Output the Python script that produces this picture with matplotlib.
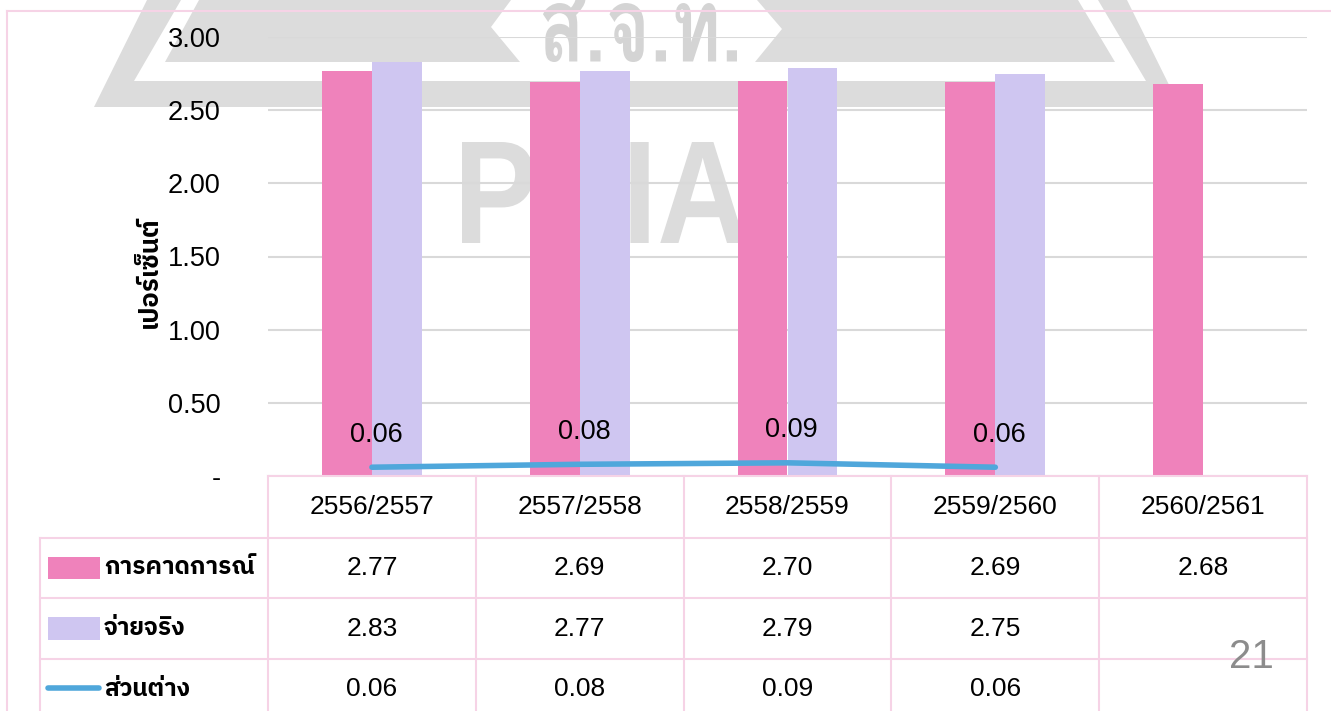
import numpy as np
import matplotlib
matplotlib.use("Agg")
import matplotlib.pyplot as plt
from matplotlib import font_manager as fm
from matplotlib.font_manager import FontProperties
from matplotlib.patches import Polygon, Rectangle, PathPatch
from matplotlib.lines import Line2D
from matplotlib.textpath import TextPath
from matplotlib.transforms import Affine2D

# ---------------- data ----------------
categories = ["2556/2557", "2557/2558", "2558/2559", "2559/2560", "2560/2561"]
forecast = [2.77, 2.69, 2.70, 2.69, 2.68]
actual = [2.83, 2.77, 2.79, 2.75]
difference = [0.06, 0.08, 0.09, 0.06]
series_names = ["การคาดการณ์", "จ่ายจริง", "ส่วนต่าง"]
y_ticks = [0, 0.5, 1.0, 1.5, 2.0, 2.5, 3.0]
y_tick_labels = ["-", "0.50", "1.00", "1.50", "2.00", "2.50", "3.00"]
y_label = "เปอร์เซ็นต์"
page_number = "21"
watermark_th = "ส.จ.ท."
watermark_en = "PPIA"

# ---------------- fonts ----------------
weights = {}
for fe in fm.fontManager.ttflist:
    w = fe.weight if isinstance(fe.weight, int) else 400
    weights.setdefault(fe.name, set()).add(w)


def pick(cands, default, need_bold=False):
    for c in cands:
        if c in weights and (not need_bold or max(weights[c]) >= 600):
            return c
    for c in cands:
        if c in weights:
            return c
    return default


THAI = pick(["Noto Sans Thai", "IBM Plex Sans Thai", "Anuphan", "Kanit", "Loma"],
            "DejaVu Sans", need_bold=True)
THAI_LOOP = pick(["Noto Sans Thai Looped", "Loma", "Sarabun"], THAI, need_bold=True)
FAM = ["Liberation Sans", THAI, "DejaVu Sans"]
plt.rcParams["font.family"] = FAM

PINK = "#EF82BB"
LAV = "#CFC6F1"
BLUE = "#4FA7DB"
BORDER = "#F6D3E6"
GRID = "#D9D9D9"
WM = "#DCDCDC"

W, H = 1331, 711
fig = plt.figure(figsize=(W / 100, H / 100), dpi=100)

# background (watermark) axes in pixel coordinates
bg = fig.add_axes([0, 0, 1, 1], zorder=-5)
bg.set_xlim(0, W)
bg.set_ylim(H, 0)
bg.axis("off")
outer = [(147, 0), (94, 107), (1180, 107), (1127, 0), (1098, 0), (1146, 81),
         (134, 81), (181, 0)]
bg.add_patch(Polygon(outer, closed=True, color=WM, lw=0))
bg.add_patch(Polygon([(199, 0), (165, 62), (520, 62), (491, 27), (511, 0)],
                     closed=True, color=WM, lw=0))
bg.add_patch(Polygon([(757, 0), (782, 29), (755, 62), (1115, 62), (1078, 0)],
                     closed=True, color=WM, lw=0))


def fitted_text(ax, s, box, prop, color):
    tp = TextPath((0, 0), s, size=100, prop=prop)
    ext = tp.get_extents()
    x0, y0, x1, y1 = box  # pixel box, y downward
    sx = (x1 - x0) / ext.width
    sy = (y1 - y0) / ext.height
    tr = (Affine2D().translate(-ext.x0, -ext.y1).scale(sx, -sy)
          .translate(x0, y0))
    ax.add_patch(PathPatch(tr.transform_path(tp), color=color, lw=0))


fitted_text(bg, watermark_th, (543, 0, 737, 62),
            FontProperties(family=THAI_LOOP, weight="bold"), "#D4D4D4")
fitted_text(bg, watermark_en, (462, 142, 745, 243),
            FontProperties(family="Liberation Sans", weight="bold"), WM)

# outer pink frame
bg.add_line(Line2D([7, W], [11, 11], color=BORDER, lw=1.5))
bg.add_line(Line2D([7, 7], [11, H], color=BORDER, lw=1.5))

# ---------------- main chart ----------------
L, R, T, B = 268, 1307, 37, 476
ax = fig.add_axes([L / W, 1 - B / H, (R - L) / W, (B - T) / H])
ax.patch.set_alpha(0)
x = np.arange(len(categories))
bw = 0.24
ax.bar(x - bw / 2, forecast, bw, color=PINK, zorder=2)
ax.bar(x[:len(actual)] + bw / 2, actual, bw, color=LAV, zorder=2)
ax.plot(x[:len(difference)], difference, color=BLUE, lw=4,
        solid_capstyle="round", zorder=3)
for xi, v in zip(x, difference):
    ax.annotate(f"{v:.2f}", (xi, v), xytext=(3, 23.5), textcoords="offset points",
                ha="center", va="center", fontsize=19.5, zorder=4)
ax.set_xlim(-0.5, len(categories) - 0.5)
ax.set_ylim(0, 3.0)
ax.set_yticks(y_ticks)
ax.set_yticklabels(y_tick_labels, fontsize=19.5)
ax.tick_params(axis="y", length=0, pad=34)
ax.set_xticks([])
ax.yaxis.grid(True, color=GRID, lw=1.5, zorder=0)
ax.set_axisbelow(True)
for s in ax.spines.values():
    s.set_visible(False)

fig.text(150 / W, 1 - 272 / H, y_label, rotation=90, ha="center", va="center",
         fontsize=18.5, fontweight="bold", family=[THAI, "DejaVu Sans"])

# ---------------- data table (pixel overlay) ----------------
tb = fig.add_axes([0, 0, 1, 1], zorder=5)
tb.set_xlim(0, W)
tb.set_ylim(H, 0)
tb.axis("off")
tb.patch.set_alpha(0)
cw = (R - L) / len(categories)
rows_y = [476, 538, 598, 659, 720]
lx = 40
tb.add_line(Line2D([L, R], [rows_y[0]] * 2, color=BORDER, lw=1.5))
for yy in rows_y[1:4]:
    tb.add_line(Line2D([lx, R], [yy] * 2, color=BORDER, lw=1.5))
tb.add_line(Line2D([lx, lx], [rows_y[1], H], color=BORDER, lw=1.5))
for i in range(len(categories) + 1):
    tb.add_line(Line2D([L + i * cw] * 2, [rows_y[0], H], color=BORDER, lw=1.5))


def mid(r):
    return (rows_y[r] + rows_y[r + 1]) / 2


FS = 19
for i, c in enumerate(categories):
    cx = L + (i + 0.5) * cw
    tb.text(cx, mid(0), c, ha="center", va="center", fontsize=FS)
    tb.text(cx, mid(1), f"{forecast[i]:.2f}", ha="center", va="center", fontsize=FS)
    if i < len(actual):
        tb.text(cx, mid(2), f"{actual[i]:.2f}", ha="center", va="center", fontsize=FS)
    if i < len(difference):
        tb.text(cx, mid(3), f"{difference[i]:.2f}", ha="center", va="center", fontsize=FS)

tb.add_patch(Rectangle((48, 557), 52, 22, color=PINK, lw=0))
tb.add_patch(Rectangle((48, 617), 52, 23, color=LAV, lw=0))
tb.add_line(Line2D([48, 99], [688, 688], color=BLUE, lw=4, solid_capstyle="round"))
for r, name in enumerate(series_names):
    tb.text(104, mid(r + 1), name, ha="left", va="center", fontsize=17.5,
            fontweight="bold", family=[THAI, "DejaVu Sans"])

tb.text(1251, 668, page_number, ha="center", va="baseline", fontsize=29,
        color="#8C8C8C")

fig.savefig("out.png", dpi=100)
